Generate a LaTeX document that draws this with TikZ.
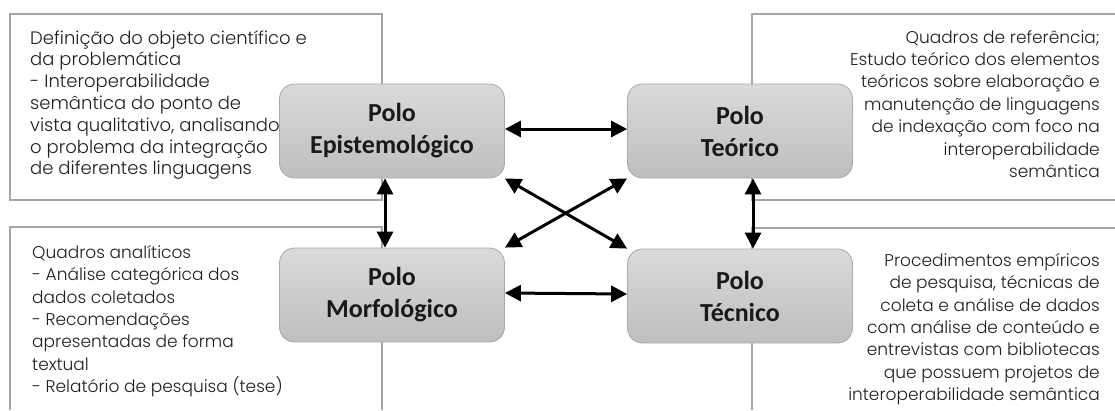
\documentclass[tikz,border=0pt]{standalone}
\usepackage{fontspec}
\setmainfont{Poppins}[UprightFont=* Light]
\newfontfamily\nodefont{Carlito}
\usetikzlibrary{arrows.meta}
\definecolor{framegray}{HTML}{A6A6A6}
\definecolor{txtgray}{HTML}{1F1F1F}
\definecolor{polotop}{HTML}{DADADA}
\definecolor{polobot}{HTML}{BEBEBE}
\definecolor{poloedge}{HTML}{A8A8A8}
\begin{document}
\begin{tikzpicture}[x=1pt,y=-1pt,
  frame/.style={draw=framegray, line width=2pt},
  polo/.style={draw=poloedge, line width=0.8pt, rounded corners=15pt,
    minimum width=225pt, minimum height=94pt, top color=polotop, bottom color=polobot,
    font=\nodefont\bfseries\fontsize{26}{32}\selectfont, align=center, text=black!90},
  txt/.style={inner sep=0pt, text=txtgray, font=\fontsize{18}{21.8}\selectfont},
  txtb/.style={txt, font=\fontsize{17}{22.4}\selectfont},
  link/.style={line width=3pt, {Triangle[length=16pt,width=16pt]}-{Triangle[length=16pt,width=16pt]}}]
\useasboundingbox (0,0) rectangle (1115,410);
% frames
\draw[frame] (10,14) rectangle (382,200);
\draw[frame] (10,410) -- (10,227) -- (382,227) -- (382,410);
\draw[frame] (1115,14) -- (752,14) -- (752,200) -- (1115,200);
\draw[frame] (1115,228) -- (752,228) -- (752,410);
% texts
\node[txt, anchor=north west, align=left] (t1) at (30,30) {Definição do objeto científico e\\da problemática\\- Interoperabilidade\\semântica do ponto de\\vista qualitativo, analisando\\o problema da integração\\de diferentes linguagens};
\node[txtb, anchor=north east, align=right] (t2) at (1100,30) {Quadros de referência;\\Estudo teórico dos elementos\\teóricos sobre elaboração e\\manutenção de linguagens\\de indexação com foco na\\interoperabilidade\\semântica};
\node[txtb, anchor=north west, align=left] (t3) at (32,245) {Quadros analíticos\\- Análise categórica dos\\dados coletados\\- Recomendações\\apresentadas de forma\\textual\\- Relatório de pesquisa (tese)};
\node[txtb, anchor=north east, align=right] (t4) at (1100,253) {Procedimentos empíricos\\de pesquisa, técnicas de\\coleta e análise de dados\\com análise de conteúdo e\\entrevistas com bibliotecas\\que possuem projetos de\\interoperabilidade semântica};
% poles
\node[polo] (ep) at (392,131) {Polo\\Epistemológico};
\node[polo] (te) at (740,131) {Polo\\Teórico};
\node[polo] (mo) at (392,295) {Polo\\Morfológico};
\node[polo] (tc) at (740,296) {Polo\\Técnico};
% links
\draw[link] ([yshift=2pt]ep.east) -- ([yshift=2pt]te.west);
\draw[link] ([yshift=2pt]mo.east) -- ([yshift=2pt]tc.west);
\draw[link] ([xshift=-7pt]ep.south) -- ([xshift=-7pt]mo.north);
\draw[link] ([xshift=13pt]te.south) -- ([xshift=13pt]tc.north);
\draw[link] (ep.south east) -- (tc.north west);
\draw[link] (mo.north east) -- (te.south west);
\end{tikzpicture}
\end{document}
